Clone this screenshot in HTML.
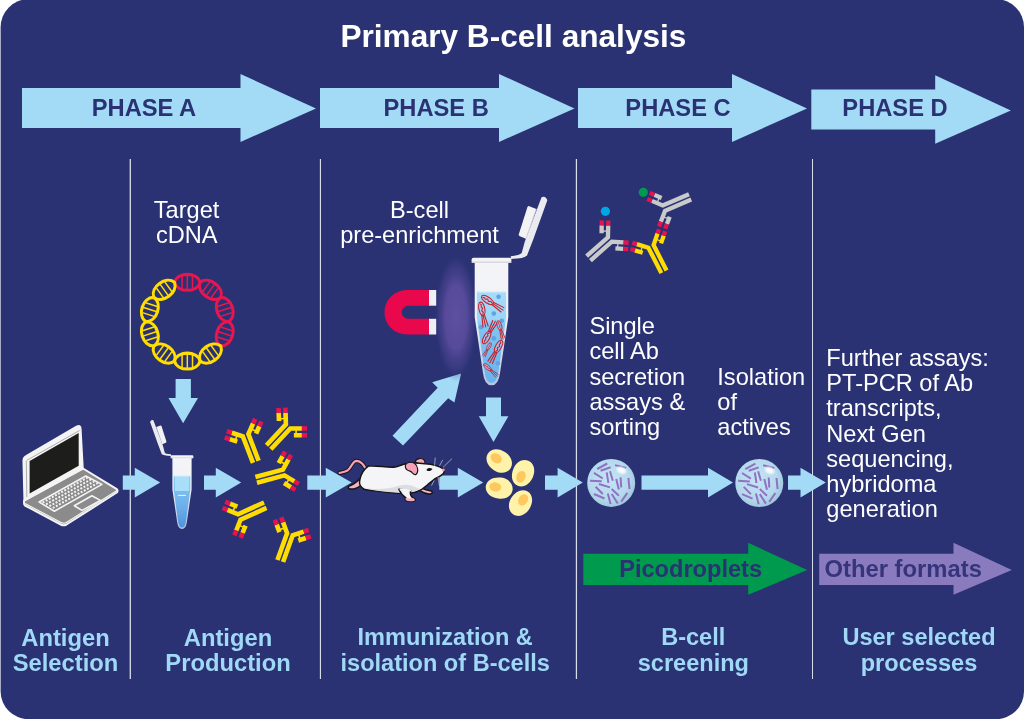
<!DOCTYPE html>
<html><head><meta charset="utf-8"><title>Primary B-cell analysis</title>
<style>
html,body{margin:0;padding:0;background:#fff;overflow:hidden;}
svg{display:block;will-change:transform}
text{font-family:"Liberation Sans",Arial,sans-serif;}
.b{font-weight:bold}
.lb{fill:#a0d9f6}
.w{fill:#fff}
.ar{fill:#a3dbf6}
</style></head>
<body>
<svg width="1024" height="719" viewBox="0 0 1024 719">
<defs>

<linearGradient id="liq1" x1="0" y1="0" x2="0" y2="1">
<stop offset="0" stop-color="#86c8f3"/><stop offset="0.55" stop-color="#6fb2ec"/><stop offset="1" stop-color="#4d93dc"/>
</linearGradient>
<linearGradient id="tubeg" x1="0" y1="0" x2="0" y2="1">
<stop offset="0" stop-color="#f5f5f8"/><stop offset="0.42" stop-color="#f0f1f6"/><stop offset="0.6" stop-color="#dfe3ef"/><stop offset="1" stop-color="#b9c3e0"/>
</linearGradient>
<g id="tubebody">
<!-- cap lid + hinge -->
<path d="M-31.9 -33.2Q-31 -36 -28.6 -35L-19 -9.2L-17.3 -2.8Q-16.6 -1.4 -11 -0.9L-11 0.7Q-19 0.6 -20.3 -1.2L-24 -11Z" fill="#eaeaef"/>
<path d="M-25.6 -28.2L-21.6 -29.8Q-20.8 -29.9 -20.5 -29.2L-15.6 -13.6Q-15.5 -12.8 -16.2 -12.4L-19.7 -11Z" fill="#f3f3f6"/>
<path d="M-25.6 -28.2L-19.7 -11" stroke="#d6d6de" stroke-width="0.5" fill="none"/>
<!-- body -->
<path d="M-9.6 2.4L-9.6 34.4L-4.9 66.5Q-4 73.8 0 73.8Q4 73.8 4.9 66.5L9.6 34.4L9.6 2.4Z" fill="url(#tubeg)"/>
<rect x="-11.4" y="0" width="22.8" height="3" rx="1.2" fill="#f4f4f7"/>
<rect x="-11.4" y="2.2" width="22.8" height="0.8" fill="#d5d5de"/>
</g>
<radialGradient id="dropg" cx="0.45" cy="0.42" r="0.6">
<stop offset="0" stop-color="#c3e4f4"/><stop offset="0.7" stop-color="#b5d9ed"/><stop offset="1" stop-color="#9fc6df"/>
</radialGradient>
<radialGradient id="hl" cx="0.5" cy="0.5" r="0.5">
<stop offset="0" stop-color="#ffffff" stop-opacity="1"/><stop offset="0.5" stop-color="#ffffff" stop-opacity="0.75"/><stop offset="1" stop-color="#ffffff" stop-opacity="0"/>
</radialGradient>
<g id="drop">
<circle r="24" fill="url(#dropg)"/>
<path d="M-14.0 -13.9L-3.9 -19.4M-10.6 -12.2L-0.6 -15.6M-17.3 -10.0L-8.4 -4.4M-21.2 -2.2L-9.5 -1.6M-12.3 1.1L-1.2 4.5M-15.6 3.9L-8.4 11.1M-17.3 11.1L-6.7 15.6M-4.5 -10.5L-2.8 0.0M-1.2 -11.7L1.6 -2.2M5.0 -3.9L7.7 6.7M9.4 -5.5L10.0 4.5M17.2 -5.0L18.3 6.1M0.5 6.1L7.7 12.8M-3.4 10.6L-0.6 21.2M0.5 11.1L6.6 20.6M16.1 10.0L10.0 18.9M3.8 -17.8L15.0 -15.0" stroke="#9072c2" stroke-width="2" fill="none"/>
<ellipse cx="10.3" cy="-12.6" rx="6.5" ry="4.6" transform="rotate(25 10.3 -12.6)" fill="url(#hl)"/>
</g>
<radialGradient id="glow" cx="0.5" cy="0.5" r="0.5">
<stop offset="0" stop-color="#5f50a1" stop-opacity="1"/><stop offset="0.5" stop-color="#5a4c9d" stop-opacity="0.92"/><stop offset="0.8" stop-color="#4a4290" stop-opacity="0.45"/><stop offset="1" stop-color="#2a3273" stop-opacity="0"/>
</radialGradient>
<g id="cell">
<path d="M-13.5 0C-13.5 -6.5 -7 -10.6 0.5 -10.6C8 -10.6 13.5 -6 13.5 0C13.5 6 8 10.6 0.5 10.6C-7 10.6 -13.5 6.5 -13.5 0Z" fill="#fff3a9"/>
<ellipse cx="-4" cy="-0.5" rx="6" ry="4.6" fill="#fdc860"/>
</g>
<linearGradient id="liq2" x1="0" y1="0" x2="0" y2="1">
<stop offset="0" stop-color="#a6dcfa"/><stop offset="0.3" stop-color="#9ad5f8"/><stop offset="0.36" stop-color="#80c6f3"/><stop offset="1" stop-color="#68b3ec"/>
</linearGradient>
<g id="bug" fill="none" stroke="#c8202c" stroke-width="1.1" stroke-linecap="round">
<ellipse rx="6.8" ry="2.9" fill="#b9c3e6" fill-opacity="0.55"/>
<path d="M-5 0.6C-3.5 -2 -2.5 2 -1 -0.5C0 -2 1.5 2 3 -0.4C3.8 -1.6 4.8 0.6 5.6 0"/>
<path d="M6.2 -1.3L18 -2.6M6.7 0L18.6 0M6.2 1.3L18 2.6"/>
</g>

</defs>
<rect x="0.6" y="-0.8" width="1023.4" height="720" rx="28" ry="28" fill="#2a3273"/>
<!-- title -->
<text x="513.4" y="47" text-anchor="middle" class="b w" font-size="31.6">Primary B-cell analysis</text>
<!-- phase arrows -->
<g class="ar">
<path d="M22 88H240.5V74L316 108.5L240.5 142V128H22Z"/>
<path d="M320 88H499V74L574.5 108.5L499 142V128H320Z"/>
<path d="M578 88H732V74L807 108.5L732 142V128H578Z"/>
<path d="M811.3 89.6H935.2V75.3L1010.8 110.4L935.2 143.8V129.5H811.3Z"/>
</g>
<g class="b" fill="#2a3273" font-size="23.7" text-anchor="middle">
<text x="144" y="115.6">PHASE A</text>
<text x="436.2" y="115.6">PHASE B</text>
<text x="678" y="115.6">PHASE C</text>
<text x="895" y="115.5">PHASE D</text>
</g>
<!-- dividers -->
<g fill="#d9dcea">
<rect x="129.65" y="159" width="1.3" height="520"/>
<rect x="319.85" y="159" width="1.15" height="520"/>
<rect x="575.8" y="159" width="1.25" height="520"/>
<rect x="812" y="159" width="1" height="520"/>
</g>
<!-- bottom labels -->
<g class="b lb" font-size="23.55" text-anchor="middle">
<text x="65.5" y="645.5" font-size="23.75">Antigen</text><text x="65.5" y="671.3" font-size="23.75">Selection</text>
<text x="228" y="645.5" font-size="23.75">Antigen</text><text x="228" y="671.3" font-size="23.75">Production</text>
<text x="445.2" y="645.4">Immunization &amp;</text><text x="445.2" y="670.8">isolation of B-cells</text>
<text x="693.2" y="645.4">B-cell</text><text x="693.4" y="671">screening</text>
<text x="919" y="645.4">User selected</text><text x="919" y="671.3">processes</text>
</g>

<!-- flow arrows -->
<g class="ar">
<path d="M122.8 475.6H134.8V467.8L160.2 482.6L134.8 497.5V489.8H122.8Z"/>
<path d="M204 475.6H215.8V467.8L241.2 482.6L215.8 497.5V489.8H204Z"/>
<path d="M307.3 475.6H325.8V467.8L351.7 482.6L325.8 497.5V489.8H307.3Z"/>
<path d="M439.3 475.6H457.8V467.8L483.2 482.6L457.8 497.5V489.8H439.3Z"/>
<path d="M545 475.6H557.6V467.8L582.8 482.6L557.6 497.5V489.8H545Z"/>
<path d="M641.5 475.6H708V467.8L733 482.6L708 497.5V489.8H641.5Z"/>
<path d="M788 475.6H800.5V467.8L825.8 482.6L800.5 497.5V489.8H788Z"/>
<path d="M175.6 379H190.9V397.9H198L183.1 423.2L168.5 397.9H175.6Z"/>
<path d="M486 397.4H501V416.2H508.4L493.5 442L478.8 416.2H486Z"/>
<path d="M392.5 435.8L403 445.5L448.2 398.2L454.4 402.4L461.1 373.6L432.2 382.3L437.7 387.8Z"/>
</g>
<!-- body text -->
<g class="w" font-size="23.6">
<text x="186.6" y="218" text-anchor="middle">Target</text>
<text x="186.8" y="243.1" text-anchor="middle">cDNA</text>
<text x="419.5" y="217.7" text-anchor="middle">B-cell</text>
<text x="419.5" y="243" text-anchor="middle">pre-enrichment</text>
<text x="589.4" y="334">Single</text>
<text x="589.4" y="359.3">cell Ab</text>
<text x="589.4" y="384.5">secretion</text>
<text x="589.4" y="409.8">assays &amp;</text>
<text x="589.4" y="435">sorting</text>
<text x="717.3" y="384.5">Isolation</text>
<text x="717.3" y="409.8">of</text>
<text x="717.3" y="435">actives</text>
<text x="826.3" y="365.9">Further assays:</text>
<text x="826.3" y="391.1">PT-PCR of Ab</text>
<text x="826.3" y="416.4">transcripts,</text>
<text x="826.3" y="441.6">Next Gen</text>
<text x="826.3" y="466.9">sequencing,</text>
<text x="826.3" y="492.1">hybridoma</text>
<text x="826.3" y="517.4">generation</text>
</g>
<!-- green / purple arrows -->
<path d="M583.3 553.7H748.2V542.8L807.2 569.9L748.2 594.8V585H583.3Z" fill="#009a4e"/>
<path d="M819.2 553.7H953.5V542.8L1011.8 569.9L953.5 594.8V585H819.2Z" fill="#8a7bbe"/>
<text x="690.6" y="576.8" text-anchor="middle" class="b" font-size="23.6" fill="#2a3273">Picodroplets</text>
<text x="903.2" y="576.8" text-anchor="middle" class="b" font-size="23.8" fill="#36357c">Other formats</text>
<!-- DNA -->
<g id="dna">
<g transform="translate(187.30 282.33) rotate(0.0)" stroke="#e9154f" fill="none"><path d="M-5.2 -6.1V6.1M0.0 -7.4V7.4M5.2 -6.1V6.1" stroke-width="1.5"/><path d="M-12.79 0C-9.79 -10.60 9.79 -10.60 12.79 0C9.79 10.60 -9.79 10.60 -12.79 0Z" stroke-width="3.1" stroke-linejoin="round"/></g>
<g transform="translate(210.44 289.85) rotate(36.0)" stroke="#e9154f" fill="none"><path d="M-5.2 -6.1V6.1M0.0 -7.4V7.4M5.2 -6.1V6.1" stroke-width="1.5"/><path d="M-12.79 0C-9.79 -10.60 9.79 -10.60 12.79 0C9.79 10.60 -9.79 10.60 -12.79 0Z" stroke-width="3.1" stroke-linejoin="round"/></g>
<g transform="translate(224.75 309.53) rotate(72.0)" stroke="#e9154f" fill="none"><path d="M-5.2 -6.1V6.1M0.0 -7.4V7.4M5.2 -6.1V6.1" stroke-width="1.5"/><path d="M-12.79 0C-9.79 -10.60 9.79 -10.60 12.79 0C9.79 10.60 -9.79 10.60 -12.79 0Z" stroke-width="3.1" stroke-linejoin="round"/></g>
<g transform="translate(224.75 333.87) rotate(108.0)" stroke="#e9154f" fill="none"><path d="M-5.2 -6.1V6.1M0.0 -7.4V7.4M5.2 -6.1V6.1" stroke-width="1.5"/><path d="M-12.79 0C-9.79 -10.60 9.79 -10.60 12.79 0C9.79 10.60 -9.79 10.60 -12.79 0Z" stroke-width="3.1" stroke-linejoin="round"/></g>
<g transform="translate(210.44 353.55) rotate(144.0)" stroke="#ffde00" fill="none"><path d="M-5.2 -6.1V6.1M0.0 -7.4V7.4M5.2 -6.1V6.1" stroke-width="1.5"/><path d="M-12.79 0C-9.79 -10.60 9.79 -10.60 12.79 0C9.79 10.60 -9.79 10.60 -12.79 0Z" stroke-width="3.1" stroke-linejoin="round"/></g>
<g transform="translate(187.30 361.07) rotate(180.0)" stroke="#ffde00" fill="none"><path d="M-5.2 -6.1V6.1M0.0 -7.4V7.4M5.2 -6.1V6.1" stroke-width="1.5"/><path d="M-12.79 0C-9.79 -10.60 9.79 -10.60 12.79 0C9.79 10.60 -9.79 10.60 -12.79 0Z" stroke-width="3.1" stroke-linejoin="round"/></g>
<g transform="translate(164.16 353.55) rotate(216.0)" stroke="#ffde00" fill="none"><path d="M-5.2 -6.1V6.1M0.0 -7.4V7.4M5.2 -6.1V6.1" stroke-width="1.5"/><path d="M-12.79 0C-9.79 -10.60 9.79 -10.60 12.79 0C9.79 10.60 -9.79 10.60 -12.79 0Z" stroke-width="3.1" stroke-linejoin="round"/></g>
<g transform="translate(149.85 333.87) rotate(252.0)" stroke="#ffde00" fill="none"><path d="M-5.2 -6.1V6.1M0.0 -7.4V7.4M5.2 -6.1V6.1" stroke-width="1.5"/><path d="M-12.79 0C-9.79 -10.60 9.79 -10.60 12.79 0C9.79 10.60 -9.79 10.60 -12.79 0Z" stroke-width="3.1" stroke-linejoin="round"/></g>
<g transform="translate(149.85 309.53) rotate(288.0)" stroke="#ffde00" fill="none"><path d="M-5.2 -6.1V6.1M0.0 -7.4V7.4M5.2 -6.1V6.1" stroke-width="1.5"/><path d="M-12.79 0C-9.79 -10.60 9.79 -10.60 12.79 0C9.79 10.60 -9.79 10.60 -12.79 0Z" stroke-width="3.1" stroke-linejoin="round"/></g>
<g transform="translate(164.16 289.85) rotate(324.0)" stroke="#ffde00" fill="none"><path d="M-5.2 -6.1V6.1M0.0 -7.4V7.4M5.2 -6.1V6.1" stroke-width="1.5"/><path d="M-12.79 0C-9.79 -10.60 9.79 -10.60 12.79 0C9.79 10.60 -9.79 10.60 -12.79 0Z" stroke-width="3.1" stroke-linejoin="round"/></g>
</g>
<!-- laptop -->
<g id="laptop" stroke-linejoin="round">
<!-- base -->
<path d="M24.2 500.5L83 468.5L116.8 489.2Q118.3 490.7 116.8 492.5L66.5 524.5Q63.6 526 60.8 524.5L25 505.5Q23.5 504.5 24.2 500.5Z" fill="#8b8b8b" stroke="#f4f4f4" stroke-width="2"/>
<path d="M25 503.5L61 522.5Q63.6 523.8 66.3 522.5L117.4 490.3" fill="none" stroke="#f4f4f4" stroke-width="1.2"/>
<!-- keyboard -->
<path d="M39.1 502L85.8 476L101.9 484.4L54.4 511.2Z" fill="#8b8b8b" stroke="#f4f4f4" stroke-width="1.6"/>
<g stroke="#f4f4f4" stroke-width="2" stroke-dasharray="2 1.55" fill="none">
<path d="M42.6 502.6L87.6 477.6"/>
<path d="M46 504.4L91 479.4"/>
<path d="M49.4 506.2L94.4 481.2"/>
<path d="M52.8 508L97.8 483"/>
</g>
<!-- touchpad -->
<path d="M74.3 505.8L91.9 495.8L100.4 500.4L82 510.4Z" fill="#8b8b8b" stroke="#f4f4f4" stroke-width="1.6"/>
<!-- screen -->
<path d="M23.2 461Q23.2 457.5 26 456L76.5 426.5Q80.6 424.2 80.8 428.5L83 468.5L24.2 500.5Z" fill="#f4f4f4" stroke="#f4f4f4" stroke-width="1.5"/>
<path d="M26.5 460.5L79.5 430.5" stroke="#9a9a9a" stroke-width="0.8" fill="none"/>
<path d="M26.3 461L26.8 497" stroke="#9a9a9a" stroke-width="0.8" fill="none"/>
<path d="M29.6 460.9L78.7 433.1V465.8L29.6 493.6Z" fill="#1d1d1b"/>
</g>
<!-- tube 1 -->
<g transform="translate(182 455.2)">
<use href="#tubebody"/>
<path d="M-8.3 20.8H8.3V34.4L3.9 66.3Q3.2 72.4 0 72.4Q-3.2 72.4 -3.9 66.3L-8.3 34.4Z" fill="url(#liq1)"/>
<rect x="-7.2" y="20.8" width="14.4" height="15" fill="#a9defb"/>
<rect x="-8.3" y="20.4" width="16.6" height="0.9" fill="#d4ecfb"/>
<rect x="-4" y="39.7" width="8" height="1" fill="#eaf4fc"/>
</g>
<!-- antibodies -->
<g transform="translate(245.6 435.2) rotate(-21)" fill="none" stroke-width="4.6">
<path d="M-3.00 28.5L-3.00 0.00L-12.01 -7.30" stroke="#ffdd00"/>
<path d="M-12.01 -7.30L-16.06 -10.57" stroke="#e8134e"/>
<path d="M-10.08 3.02L-16.29 -2.02" stroke="#ffdd00"/>
<path d="M-16.29 -2.02L-20.34 -5.29" stroke="#e8134e"/>
<path d="M-7.51 -3.65L-11.79 1.63" stroke="#ffdd00" stroke-width="1.6"/>
<path d="M3.00 28.5L3.00 0.00L11.20 -8.20" stroke="#ffdd00"/>
<path d="M11.20 -8.20L14.88 -11.88" stroke="#e8134e"/>
<path d="M10.35 2.26L16.01 -3.39" stroke="#ffdd00"/>
<path d="M16.01 -3.39L19.69 -7.07" stroke="#e8134e"/>
<path d="M7.10 -4.10L11.91 0.71" stroke="#ffdd00" stroke-width="1.6"/>
</g>
<g transform="translate(288.1 426.4) rotate(43)" fill="none" stroke-width="4.6">
<path d="M-3.00 28.5L-3.00 0.00L-11.20 -8.20" stroke="#ffdd00"/>
<path d="M-11.20 -8.20L-14.88 -11.88" stroke="#e8134e"/>
<path d="M-10.35 2.26L-16.01 -3.39" stroke="#ffdd00"/>
<path d="M-16.01 -3.39L-19.69 -7.07" stroke="#e8134e"/>
<path d="M-7.10 -4.10L-11.91 0.71" stroke="#ffdd00" stroke-width="1.6"/>
<path d="M3.00 28.5L3.00 0.00L11.48 -7.91" stroke="#ffdd00"/>
<path d="M11.48 -7.91L15.29 -11.46" stroke="#e8134e"/>
<path d="M10.27 2.52L16.12 -2.94" stroke="#ffdd00"/>
<path d="M16.12 -2.94L19.92 -6.48" stroke="#e8134e"/>
<path d="M7.24 -3.96L11.88 1.02" stroke="#ffdd00" stroke-width="1.6"/>
</g>
<g transform="translate(283.7 472.5) rotate(75)" fill="none" stroke-width="4.6">
<path d="M-3.00 28.5L-3.00 0.00L-11.34 -8.06" stroke="#ffdd00"/>
<path d="M-11.34 -8.06L-15.08 -11.67" stroke="#e8134e"/>
<path d="M-10.31 2.39L-16.07 -3.17" stroke="#ffdd00"/>
<path d="M-16.07 -3.17L-19.81 -6.78" stroke="#e8134e"/>
<path d="M-7.17 -4.03L-11.90 0.86" stroke="#ffdd00" stroke-width="1.6"/>
<path d="M3.00 28.5L3.00 0.00L11.34 -8.06" stroke="#ffdd00"/>
<path d="M11.34 -8.06L15.08 -11.67" stroke="#e8134e"/>
<path d="M10.31 2.39L16.07 -3.17" stroke="#ffdd00"/>
<path d="M16.07 -3.17L19.81 -6.78" stroke="#e8134e"/>
<path d="M7.17 -4.03L11.90 0.86" stroke="#ffdd00" stroke-width="1.6"/>
</g>
<g transform="translate(239.3 517) rotate(-114.4)" fill="none" stroke-width="4.6">
<path d="M-3.00 28.5L-3.00 0.00L-11.06 -8.34" stroke="#ffdd00"/>
<path d="M-11.06 -8.34L-14.67 -12.08" stroke="#e8134e"/>
<path d="M-10.39 2.13L-15.95 -3.62" stroke="#ffdd00"/>
<path d="M-15.95 -3.62L-19.56 -7.36" stroke="#e8134e"/>
<path d="M-7.03 -4.17L-11.92 0.55" stroke="#ffdd00" stroke-width="1.6"/>
<path d="M3.00 28.5L3.00 0.00L11.48 -7.91" stroke="#ffdd00"/>
<path d="M11.48 -7.91L15.29 -11.46" stroke="#e8134e"/>
<path d="M10.27 2.52L16.12 -2.94" stroke="#ffdd00"/>
<path d="M16.12 -2.94L19.92 -6.48" stroke="#e8134e"/>
<path d="M7.24 -3.96L11.88 1.02" stroke="#ffdd00" stroke-width="1.6"/>
</g>
<g transform="translate(289.9 534.2) rotate(19.8)" fill="none" stroke-width="4.6">
<path d="M-3.00 28.5L-3.00 0.00L-10.46 -8.89" stroke="#ffdd00"/>
<path d="M-10.46 -8.89L-13.80 -12.87" stroke="#e8134e"/>
<path d="M-10.52 1.61L-15.67 -4.52" stroke="#ffdd00"/>
<path d="M-15.67 -4.52L-19.01 -8.50" stroke="#e8134e"/>
<path d="M-6.73 -4.44L-11.94 -0.07" stroke="#ffdd00" stroke-width="1.6"/>
<path d="M3.00 28.5L3.00 0.00L12.14 -7.14" stroke="#ffdd00"/>
<path d="M12.14 -7.14L16.24 -10.34" stroke="#e8134e"/>
<path d="M10.02 3.14L16.33 -1.78" stroke="#ffdd00"/>
<path d="M16.33 -1.78L20.43 -4.98" stroke="#e8134e"/>
<path d="M7.57 -3.57L11.76 1.79" stroke="#ffdd00" stroke-width="1.6"/>
</g>
<!-- complex -->
<g transform="translate(651 246.4) rotate(-27)" fill="none" stroke-width="4.3">
<path d="M-2.90 28.5L-2.90 0.00L-11.68 -8.47" stroke="#ffdd00"/>
<path d="M-11.68 -8.47L-14.98 -11.67" stroke="#e8134e"/>
<path d="M-10.29 1.90L-16.19 -3.80" stroke="#ffdd00"/>
<path d="M-16.19 -3.80L-19.50 -6.99" stroke="#e8134e"/>
<path d="M-7.36 -4.31L-11.88 0.37" stroke="#ffdd00" stroke-width="1.3"/>
<path d="M2.90 28.5L2.90 0.00L11.68 -8.47" stroke="#ffdd00"/>
<path d="M11.68 -8.47L14.98 -11.67" stroke="#e8134e"/>
<path d="M10.29 1.90L16.19 -3.80" stroke="#ffdd00"/>
<path d="M16.19 -3.80L19.50 -6.99" stroke="#e8134e"/>
<path d="M7.36 -4.31L11.88 0.37" stroke="#ffdd00" stroke-width="1.3"/>
</g>
<g transform="translate(609.9 239.5) rotate(48.6)" fill="none" stroke-width="4.3">
<path d="M-2.90 28.5L-2.90 0.00L-11.60 -7.97" stroke="#c9caca"/>
<path d="M-11.60 -7.97L-15.29 -11.35" stroke="#e8134e"/>
<path d="M-10.24 2.09L-15.99 -3.18" stroke="#c9caca"/>
<path d="M-15.99 -3.18L-19.68 -6.56" stroke="#e8134e"/>
<path d="M-7.47 -4.19L-11.86 0.60" stroke="#c9caca" stroke-width="1.3"/>
<path d="M2.90 28.5L2.90 0.00L11.24 -8.34" stroke="#c9caca"/>
<path d="M11.24 -8.34L14.78 -11.88" stroke="#e8134e"/>
<path d="M10.32 1.77L15.84 -3.75" stroke="#c9caca"/>
<path d="M15.84 -3.75L19.38 -7.28" stroke="#e8134e"/>
<path d="M7.28 -4.38L11.88 0.21" stroke="#c9caca" stroke-width="1.3"/>
</g>
<g transform="translate(663.9 208.1) rotate(-113.2)" fill="none" stroke-width="4.3">
<path d="M-2.90 28.5L-2.90 0.00L-11.39 -8.20" stroke="#c9caca"/>
<path d="M-11.39 -8.20L-14.98 -11.67" stroke="#e8134e"/>
<path d="M-10.29 1.90L-15.90 -3.52" stroke="#c9caca"/>
<path d="M-15.90 -3.52L-19.50 -6.99" stroke="#e8134e"/>
<path d="M-7.36 -4.31L-11.88 0.37" stroke="#c9caca" stroke-width="1.3"/>
<path d="M2.90 28.5L2.90 0.00L11.39 -8.20" stroke="#c9caca"/>
<path d="M11.39 -8.20L14.98 -11.67" stroke="#e8134e"/>
<path d="M10.29 1.90L15.90 -3.52" stroke="#c9caca"/>
<path d="M15.90 -3.52L19.50 -6.99" stroke="#e8134e"/>
<path d="M7.36 -4.31L11.88 0.37" stroke="#c9caca" stroke-width="1.3"/>
</g>
<circle cx="605.4" cy="211.3" r="4.6" fill="#00a7e6"/>
<circle cx="643.3" cy="192.3" r="4.6" fill="#009a4e"/>
<!-- droplets -->
<use href="#drop" x="611.2" y="482.9"/>
<use href="#drop" x="759.3" y="483"/>
<!-- cells -->
<use href="#cell" transform="translate(499.2 461) rotate(35)"/>
<use href="#cell" transform="translate(523 473.3) rotate(-67)"/>
<use href="#cell" transform="translate(499.2 488) rotate(8)"/>
<use href="#cell" transform="translate(520.6 503) rotate(122)"/>
<!-- magnet -->
<ellipse cx="456" cy="317" rx="22" ry="65" fill="url(#glow)"/>
<path d="M429 290H406.7A22.2 22.2 0 0 0 406.7 334.5H429V318.8H407.5A6.6 6.6 0 0 1 407.5 305.7H429Z" fill="#e8084b"/>
<rect x="429" y="290" width="7.2" height="15.7" fill="#f1eff6"/>
<rect x="429" y="318.8" width="7.2" height="15.7" fill="#f1eff6"/>
<!-- tube 2 -->
<g transform="translate(491.5 257.7) scale(-1.75 1.73)"><use href="#tubebody"/></g>
<path d="M476.9 292H506.1V317.5L498.3 372.5Q497 383 491.5 383Q486 383 484.7 372.5L476.9 317.5Z" fill="url(#liq2)"/>
<rect x="476.9" y="291.4" width="29.2" height="1.2" fill="#cfeafb"/>
<g fill="#5fa4e3"><circle cx="498.6" cy="296.8" r="2.3"/><circle cx="493.8" cy="313.6" r="2.3"/><circle cx="481" cy="327.2" r="2.3"/><circle cx="501.8" cy="320.8" r="2.3"/><circle cx="493.8" cy="338.4" r="2.3"/><circle cx="497.8" cy="363.2" r="2.3"/></g>
<use href="#bug" transform="translate(487.4 300) rotate(33) scale(1)"/>
<use href="#bug" transform="translate(481.8 308.8) rotate(78) scale(1)"/>
<use href="#bug" transform="translate(486.6 337.6) rotate(-62) scale(1)"/>
<use href="#bug" transform="translate(499.4 325.6) rotate(74) scale(0.75)"/>
<use href="#bug" transform="translate(498.6 346.4) rotate(118) scale(1)"/>
<use href="#bug" transform="translate(489 346.4) rotate(118) scale(0.6)"/>
<use href="#bug" transform="translate(487.4 367.2) rotate(42) scale(0.72)"/>
<!-- mouse -->
<g id="mouse" stroke-linejoin="round" stroke-linecap="round">
<path d="M366.6 469.9 C363.7 465.2 361.4 461.1 356.7 460.8 C352.6 460.8 351.4 467.6 347.9 470.2 C345.0 472.0 342.0 472.3 339.5 473.0 " fill="none" stroke="#151515" stroke-width="4"/>
<path d="M366.6 469.9 C363.7 465.2 361.4 461.1 356.7 460.8 C352.6 460.8 351.4 467.6 347.9 470.2 C345.0 472.0 342.0 472.3 339.5 473.0 " fill="none" stroke="#f6a1b6" stroke-width="2.2"/>
<path d="M360.2 478.7 C357.3 481.1 353.8 484.6 348.8 486.3 C347.3 488.1 349.6 489.6 353.8 488.9 C356.7 488.2 359.0 487.0 360.5 485.7 Z" fill="#f5b1c2" stroke="#151515" stroke-width="1.5"/>
<path d="M415.3 461.7 C415.9 458.2 421.7 457.6 424.1 460.0 C425.5 461.7 425.0 463.5 424.1 464.3 C421.1 464.3 417.6 464.1 415.3 461.7 Z" fill="#f6a6ba" stroke="#151515" stroke-width="1.1"/>
<path d="M421.7 487.5 C423.5 489.6 426.4 490.1 430.2 490.8 C433.4 491.4 432.9 494.3 428.8 493.9 C425.2 493.6 422.3 492.4 419.4 490.4 Z" fill="#f6b6c5" stroke="#151515" stroke-width="1.5"/>
<path d="M368.4 466.1 C376.0 465.0 385.4 467.6 393.6 467.2 C398.3 467.0 401.8 464.1 406.5 463.8 C412.3 462.3 420.6 463.1 425.2 463.8 C432.3 464.3 439.3 466.4 443.4 468.8 C445.2 470.5 444.0 473.4 442.2 474.4 C440.5 476.4 437.0 477.5 435.2 478.7 C432.3 481.1 428.8 483.4 427.0 485.2 C425.2 486.9 421.7 490.4 415.9 492.0 C410.0 493.6 400.6 493.6 391.3 492.4 C381.9 491.6 370.2 491.0 364.3 489.3 C360.2 487.5 359.0 483.4 359.8 479.9 C360.8 474.6 364.3 468.8 368.4 466.1 Z" fill="#f5f5f7" stroke="#151515" stroke-width="1.5"/>
<path d="M363.1 487.5 C373.7 490.4 391.3 488.7 400.6 485.2 C407.7 483.4 414.7 486.3 419.4 488.7 C417.0 491.0 412.3 492.4 405.3 492.9 C391.3 492.7 373.7 491.3 363.1 487.5 Z" fill="#dcdce3"/>
<path d="M398.9 489.3 C400.6 493.4 403.6 496.3 405.9 497.8 C404.1 499.8 406.5 501.6 410.6 501.6 C415.9 501.8 416.4 499.2 412.9 497.8 C410.6 496.3 410.0 493.4 410.6 490.4 Z" fill="#f5f5f7" stroke="#151515" stroke-width="1.5"/>
<path d="M405.9 498.0 C404.4 499.8 406.7 501.3 410.6 501.3 C415.4 501.6 415.9 499.5 412.9 498.0 C410.6 498.6 408.2 498.6 405.9 498.0 Z" fill="#f4a9bc"/>
<path d="M400.6 489.6 L410.0 490.4 " stroke="#f5f5f7" stroke-width="2.2" fill="none"/>
<path d="M405.3 466.4 C405.3 462.3 411.2 461.1 414.7 463.5 C418.2 465.8 418.8 472.3 415.9 474.6 C412.9 475.2 412.3 471.7 410.0 471.1 C407.1 470.2 405.3 469.3 405.3 466.4 Z" fill="#f6a1b6" stroke="#151515" stroke-width="1.1"/>
<path d="M426.4 469.9 C427.6 467.6 430.5 467.3 432.5 469.0 C431.1 471.1 428.2 471.9 426.4 469.9 Z" fill="#151515"/>
<circle cx="443.4" cy="469.9" r="1.4" fill="#f19db2"/>
<path d="M434.6 465.2 L435.2 458.0 M439.7 465.5 L442.5 460.3 M443.4 467.0 L451.7 458.9 M438.1 477.2 L439.3 485.4 M441.1 478.1 L444.7 483.5 M434.0 480.7 L431.7 485.2 " fill="none" stroke="#c9cbd8" stroke-width="0.7"/>
</g>


</svg>
</body></html>
